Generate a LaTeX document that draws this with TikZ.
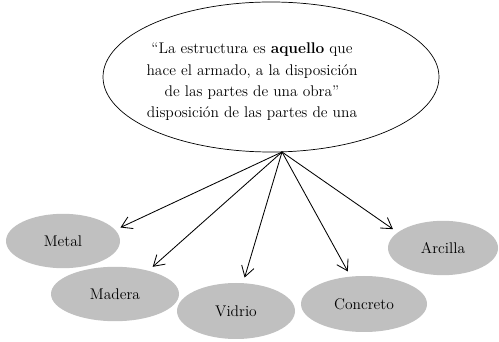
\documentclass[tikz,border=0pt]{standalone}
\usepackage{tikz}
\usetikzlibrary{arrows.meta,shapes.geometric,positioning}
\definecolor{materialgray}{RGB}{192,192,192}

\begin{document}
\begin{tikzpicture}[>={Straight Barb[length=2.6mm,width=3.2mm]},line cap=round,line join=round]
 \tikzset{
  material/.style={ellipse,fill=materialgray,inner sep=0pt,
   minimum height=1.36cm,font=\fontsize{11}{13}\selectfont},
  flecha/.style={->,line width=.6pt,shorten >=4pt}
 }
 \useasboundingbox (0,0) rectangle (12.475,8.55);
 \node[ellipse,draw,line width=.5pt,minimum width=8.4cm,minimum height=3.75cm] (cita) at (6.775,6.625) {};
 \node[align=center,font=\fontsize{11}{15.2}\selectfont] (texto) at (6.3,6.5)
  {``La estructura es \textbf{aquello} que\\
  hace el armado, a la disposición\\
  de las partes de una obra''\\
  disposición de las partes de una};
 \coordinate (hub) at (7.05,4.75);
 \node[material,minimum width=2.85cm] (metal) at (1.575,2.525) {Metal};
 \node[material,minimum width=3.2cm] (madera) at (2.875,1.2) {Madera};
 \node[material,minimum width=2.95cm,minimum height=1.4cm] (vidrio) at (5.9,.775) {Vidrio};
 \node[material,minimum width=3.15cm,minimum height=1.4cm] (concreto) at (9.1,.95) {Concreto};
 \node[material,minimum width=2.75cm] (arcilla) at (11.075,2.35) {Arcilla};
 \draw[flecha] (hub) -- (metal.12);
 \draw[flecha] (hub) -- (madera.35);
 \draw[flecha] (hub) -- (vidrio.76);
 \draw[flecha] (hub) -- (concreto.116);
 \draw[flecha] (hub) -- (arcilla.161);
\end{tikzpicture}
\end{document}
